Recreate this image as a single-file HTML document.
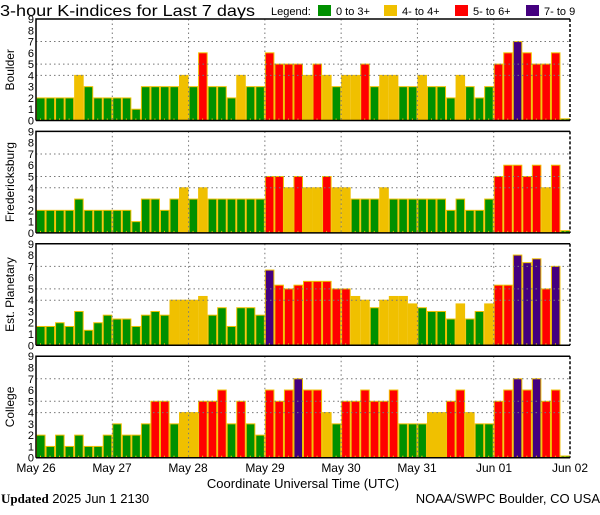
<!DOCTYPE html>
<html><head><meta charset="utf-8"><style>
body{margin:0;background:#fff;width:600px;height:510px;overflow:hidden}
svg text{font-family:"Liberation Sans",sans-serif}
</style></head><body>
<svg id="s" width="600" height="510" xmlns="http://www.w3.org/2000/svg">
<text x="0" y="16" font-size="16" textLength="255" lengthAdjust="spacingAndGlyphs">3-hour K-indices for Last 7 days</text>
<text x="271" y="15" font-size="11">Legend:</text>
<rect x="318" y="5" width="13" height="11" fill="#009000"/><text x="336" y="15" font-size="11">0 to 3+</text>
<rect x="384" y="5" width="13" height="11" fill="#f0c000"/><text x="402" y="15" font-size="11">4- to 4+</text>
<rect x="455" y="5" width="13" height="11" fill="#ff0000"/><text x="473" y="15" font-size="11">5- to 6+</text>
<rect x="526" y="5" width="13" height="11" fill="#44007f"/><text x="544" y="15" font-size="11">7- to 9</text>
<g id="g"></g>
<g font-size="12" text-anchor="middle">
<text x="36" y="472">May 26</text><text x="112" y="472">May 27</text><text x="188" y="472">May 28</text>
<text x="265" y="472">May 29</text><text x="341" y="472">May 30</text><text x="417" y="472">May 31</text>
<text x="494" y="472">Jun 01</text><text x="570" y="472">Jun 02</text>
</g>
<text x="303" y="488" font-size="13" text-anchor="middle">Coordinate Universal Time (UTC)</text>
<text x="1" y="503" font-size="13"><tspan font-family="Liberation Serif" font-weight="bold">Updated</tspan> 2025 Jun  1 2130</text>
<text x="600" y="503" font-size="13" text-anchor="end">NOAA/SWPC Boulder, CO USA</text>
</svg>
<script>
var D=[
[2,2,2,2,4,3,2,2,2,2,1,3,3,3,3,4,3,6,3,3,2,4,3,3,6,5,5,5,4,5,4,3,4,4,5,3,4,4,3,3,4,3,3,2,4,3,2,3,5,6,7,6,5,5,6,0.15],
[2,2,2,2,3,2,2,2,2,2,1,3,3,2,3,4,3,4,3,3,3,3,3,3,5,5,4,5,4,4,5,4,4,3,3,3,4,3,3,3,3,3,3,2,3,2,2,3,5,6,6,5,6,4,6,0.2],
[1.67,1.67,2,1.67,3,1.33,2,2.67,2.33,2.33,1.67,2.67,3,2.67,4,4,4,4.33,2.67,3.33,1.67,3.33,3.33,2.67,6.67,5.33,5,5.33,5.67,5.67,5.67,5,5,4.33,4,3.33,4,4.33,4.33,3.67,3.33,3,3,2.33,3.67,2.33,3,3.67,5.33,5.33,8,7.33,7.67,5,7,0],
[2,1,2,1,2,1,1,2,3,2,2,3,5,5,3,4,4,5,5,6,3,5,3,2,6,5,6,7,6,6,4,3,5,5,6,5,5,6,3,3,3,4,4,5,6,4,3,3,5,6,7,6,7,5,6,0.15]];
var N=["Boulder","Fredericksburg","Est. Planetary","College"];
var h='',L=36,R=570,bw=(R-L)/56;
function col(v){return v<3.5?'#009000':v<4.5?'#f0c000':v<6.5?'#ff0000':'#44007f'}
for(var p=0;p<4;p++){
 var T=19+112.4*p,H=101.5,B=T+H,u=H/9;
 for(var k=0;k<=9;k++)h+='<text x="34" y="'+(B-k*u+4)+'" font-size="11" text-anchor="end">'+k+'</text>';
 h+='<text transform="translate(14,'+(T+H/2)+') rotate(-90)" font-size="12" text-anchor="middle">'+N[p]+'</text>';
 D[p].forEach(function(v,i){if(v<=0)return;var x=L+i*bw,y=B-v*u;
  h+='<rect x="'+(x+0.5)+'" y="'+y+'" width="'+(bw-1)+'" height="'+(v*u)+'" fill="'+col(v)+'" stroke="#f0c000" stroke-width="1"/>';
  h+='<rect x="'+(x+4)+'" y="'+(B-2)+'" width="1" height="2" fill="#f0c000"/>';});
 [4,5,7].forEach(function(k){h+='<line x1="'+L+'" x2="'+R+'" y1="'+(B-k*u)+'" y2="'+(B-k*u)+'" stroke="#777" stroke-dasharray="1.5,3"/>'});
 for(var d=1;d<7;d++){var x=L+d*8*bw;h+='<line x1="'+x+'" x2="'+x+'" y1="'+T+'" y2="'+B+'" stroke="#777" stroke-dasharray="1.5,3"/>'}
 h+='<path d="M'+L+' '+B+'V'+T+'H'+R+'" fill="none" stroke="#000" stroke-width="1.5"/>';
 h+='<line x1="'+L+'" x2="'+R+'" y1="'+B+'" y2="'+B+'" stroke="#000" stroke-width="1.5"/>';
 h+='<line x1="'+R+'" x2="'+R+'" y1="'+T+'" y2="'+B+'" stroke="#000" stroke-width="1.5" stroke-dasharray="3,2"/>';
}
document.getElementById('g').innerHTML=h;
</script>
</body></html>
